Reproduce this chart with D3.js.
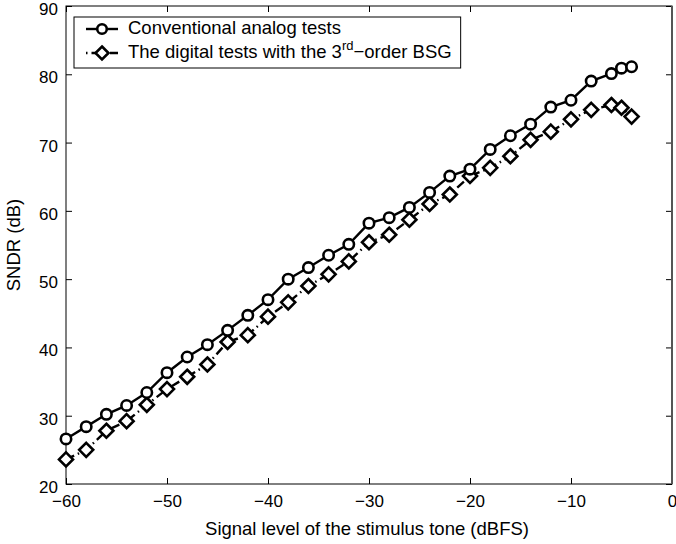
<!DOCTYPE html>
<html>
<head>
<meta charset="utf-8">
<script src="https://cdn.jsdelivr.net/npm/d3@7"></script>
<style>
  body { margin: 0; background: #fff; }
  text { font-family: "Liberation Sans", Arial, sans-serif; fill: #000; }
</style>
</head>
<body>
<div id="chart"></div>
<script>
var levels = [-60, -58, -56, -54, -52, -50, -48, -46, -44, -42, -40, -38, -36, -34, -32,
              -30, -28, -26, -24, -22, -20, -18, -16, -14, -12, -10, -8, -6, -5, -4];
var analogSndr = [26.6, 28.4, 30.2, 31.5, 33.4, 36.3, 38.6, 40.4, 42.5, 44.7, 47.0, 50.0, 51.7, 53.5, 55.1,
                  58.2, 59.0, 60.5, 62.7, 65.1, 66.1, 69.0, 71.0, 72.7, 75.2, 76.2, 79.0, 80.1, 80.9, 81.1];
var digitalSndr = [23.6, 25.0, 27.8, 29.2, 31.6, 33.9, 35.7, 37.5, 40.8, 41.8, 44.5, 46.6, 49.0, 50.7, 52.6,
                   55.4, 56.5, 58.7, 61.0, 62.4, 65.1, 66.3, 68.0, 70.4, 71.6, 73.4, 74.8, 75.5, 75.1, 73.8];
var xTicks = [-60, -50, -40, -30, -20, -10, 0];
var yTicks = [20, 30, 40, 50, 60, 70, 80, 90];

var width = 676,
    height = 544,
    margin = {top: 6, right: 4, bottom: 60, left: 66};

var svg = d3.select("#chart").append("svg")
    .attr("width", width)
    .attr("height", height);

var x = d3.scaleLinear().domain([-60, 0]).range([margin.left, width - margin.right]);
var y = d3.scaleLinear().domain([20, 90]).range([height - margin.bottom, margin.top]);

// axes (inward ticks on all four sides, like matlab)
var tickLen = 6;
svg.append("g")
    .attr("transform", "translate(0," + y(20) + ")")
    .call(d3.axisBottom(x).tickValues(xTicks).tickSizeInner(-tickLen).tickSizeOuter(0).tickPadding(11)
      .tickFormat(function(d) { return d < 0 ? "\u2212" + Math.abs(d) : d; }))
    .call(function(g) { g.select(".domain").remove(); g.selectAll("text").style("font-size", "17px"); });
svg.append("g")
    .attr("transform", "translate(0," + y(90) + ")")
    .call(d3.axisTop(x).tickValues(xTicks).tickSizeInner(-tickLen).tickSizeOuter(0).tickFormat(""))
    .call(function(g) { g.select(".domain").remove(); });
svg.append("g")
    .attr("transform", "translate(" + x(-60) + ",0)")
    .call(d3.axisLeft(y).tickValues(yTicks).tickSizeInner(-tickLen).tickSizeOuter(0).tickPadding(8))
    .call(function(g) {
      g.select(".domain").remove();
      g.selectAll("text").style("font-size", "17px").attr("dy", "0.5em");
    });
svg.append("g")
    .attr("transform", "translate(" + x(0) + ",0)")
    .call(d3.axisRight(y).tickValues(yTicks).tickSizeInner(-tickLen).tickSizeOuter(0).tickFormat(""))
    .call(function(g) { g.select(".domain").remove(); });

svg.append("rect")
    .attr("x", x(-60)).attr("y", y(90))
    .attr("width", x(0) - x(-60)).attr("height", y(20) - y(90))
    .attr("fill", "none").attr("stroke", "#000").attr("stroke-width", 1);
svg.append("line")
    .attr("x1", x(0)).attr("x2", x(0)).attr("y1", y(90)).attr("y2", y(20))
    .attr("stroke", "#555").attr("stroke-width", 2);

// axis titles
svg.append("text")
    .attr("x", (x(-60) + x(0)) / 2 - 2)
    .attr("y", 535)
    .attr("text-anchor", "middle")
    .style("font-size", "18.5px")
    .text("Signal level of the stimulus tone (dBFS)");
svg.append("text")
    .attr("transform", "translate(20," + (y(55)) + ") rotate(-90)")
    .attr("text-anchor", "middle")
    .style("font-size", "18.5px")
    .text("SNDR (dB)");

var analog = levels.map(function(d, i) { return [d, analogSndr[i]]; });
var digital = levels.map(function(d, i) { return [d, digitalSndr[i]]; });

var line = d3.line()
    .x(function(d) { return x(d[0]); })
    .y(function(d) { return y(d[1]); });

var diamond = function(cx, cy, r) {
  return "M" + cx + "," + (cy - r) + "L" + (cx + r) + "," + cy + "L" + cx + "," + (cy + r) + "L" + (cx - r) + "," + cy + "Z";
};

// digital series: dash-dot
svg.append("path")
    .datum(digital)
    .attr("d", line)
    .attr("fill", "none")
    .attr("stroke", "#000")
    .attr("stroke-width", 2.4)
    .attr("stroke-dasharray", "9,4,1.5,4");
svg.selectAll(".dia")
    .data(digital)
  .enter().append("path")
    .attr("class", "dia")
    .attr("d", function(d) { return diamond(x(d[0]), y(d[1]), 7); })
    .attr("fill", "#fff")
    .attr("stroke", "#000")
    .attr("stroke-width", 2.6);

// analog series: solid with circles
svg.append("path")
    .datum(analog)
    .attr("d", line)
    .attr("fill", "none")
    .attr("stroke", "#000")
    .attr("stroke-width", 2.4);
svg.selectAll(".circ")
    .data(analog)
  .enter().append("circle")
    .attr("class", "circ")
    .attr("cx", function(d) { return x(d[0]); })
    .attr("cy", function(d) { return y(d[1]); })
    .attr("r", 5.2)
    .attr("fill", "#fff")
    .attr("stroke", "#000")
    .attr("stroke-width", 2.6);

// legend
var legend = svg.append("g");
var box = legend.append("rect")
    .attr("x", 74).attr("y", 17)
    .attr("height", 51)
    .attr("fill", "#fff").attr("stroke", "#000").attr("stroke-width", 1);

legend.append("line")
    .attr("x1", 86).attr("x2", 118).attr("y1", 29).attr("y2", 29)
    .attr("stroke", "#000").attr("stroke-width", 2.4);
legend.append("circle")
    .attr("cx", 102).attr("cy", 29).attr("r", 4.8)
    .attr("fill", "#fff").attr("stroke", "#000").attr("stroke-width", 2.6);
legend.append("text")
    .attr("x", 128).attr("y", 34)
    .style("font-size", "18.5px")
    .text("Conventional analog tests");

legend.append("line")
    .attr("x1", 86).attr("x2", 118).attr("y1", 53).attr("y2", 53)
    .attr("stroke", "#000").attr("stroke-width", 2.4)
    .attr("stroke-dasharray", "1.5,4,9,4");
legend.append("path")
    .attr("d", diamond(102, 53, 6.5))
    .attr("fill", "#fff").attr("stroke", "#000").attr("stroke-width", 2.6);
var t2 = legend.append("text")
    .attr("x", 128).attr("y", 58)
    .style("font-size", "18.5px");
t2.append("tspan").text("The digital tests with the 3");
t2.append("tspan").attr("dy", -8).style("font-size", "13px").text("rd");
t2.append("tspan").attr("dy", 8).text("\u2212order BSG");

var bb = t2.node().getBBox();
box.attr("width", bb.x + bb.width + 9 - 74);
</script>
</body>
</html>
